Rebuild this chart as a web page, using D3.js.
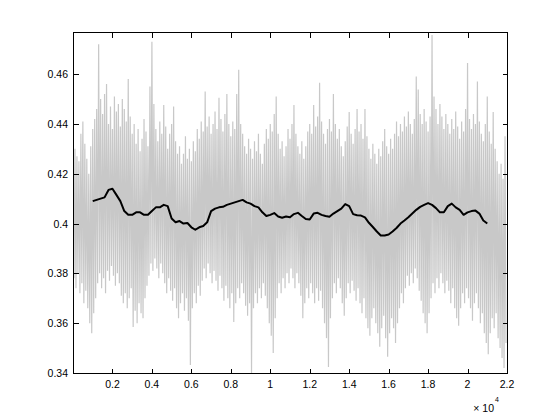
<!DOCTYPE html>
<html><head><meta charset="utf-8">
<script src="https://cdn.jsdelivr.net/npm/d3@7"></script>
<style>html,body{margin:0;padding:0;background:#fff;}svg{display:block;}</style>
</head><body>
<script>
// ---- data ----
const xTickValues = [2000,4000,6000,8000,10000,12000,14000,16000,18000,20000,22000];
const xTickLabels = ["0.2","0.4","0.6","0.8","1","1.2","1.4","1.6","1.8","2","2.2"];
const yTickValues = [0.34,0.36,0.38,0.40,0.42,0.44,0.46];
const yTickLabels = ["0.34","0.36","0.38","0.4","0.42","0.44","0.46"];
const xExponentLabel = "\u00d7 10";
const xExponent = "4";

// raw signal, sampled every 100 samples: local high and local low
const grayStep = 100;
const grayHigh = [
0.428,0.430,0.427,0.425,0.436,0.441,0.432,0.426,0.420,0.431,
0.438,0.442,0.446,0.472,0.450,0.444,0.452,0.456,0.440,0.447,
0.438,0.451,0.445,0.448,0.439,0.450,0.446,0.441,0.458,0.443,
0.436,0.440,0.432,0.438,0.429,0.434,0.442,0.437,0.431,0.455,
0.473,0.448,0.438,0.433,0.441,0.436,0.4476,0.439,0.430,0.436,
0.440,0.447,0.433,0.428,0.431,0.424,0.428,0.435,0.426,0.430,
0.425,0.433,0.429,0.438,0.434,0.441,0.437,0.453,0.439,0.443,
0.436,0.440,0.445,0.438,0.4505,0.442,0.437,0.444,0.452,0.440,
0.435,0.441,0.438,0.452,0.4617,0.440,0.436,0.431,0.428,0.434,
0.430,0.426,0.433,0.429,0.436,0.428,0.424,0.432,0.438,0.434,
0.440,0.437,0.444,0.451,0.436,0.430,0.433,0.427,0.431,0.438,
0.434,0.440,0.4476,0.436,0.431,0.428,0.433,0.426,0.431,0.437,
0.440,0.436,0.4476,0.439,0.443,0.4565,0.441,0.436,0.432,0.438,
0.442,0.437,0.452,0.440,0.434,0.438,0.431,0.427,0.433,0.439,
0.4448,0.436,0.432,0.438,0.446,0.437,0.440,0.434,0.446,0.435,
0.430,0.426,0.432,0.428,0.424,0.430,0.427,0.433,0.438,0.431,
0.428,0.434,0.430,0.436,0.441,0.435,0.440,0.437,0.443,0.439,
0.445,0.440,0.436,0.442,0.459,0.4538,0.444,0.440,0.446,0.441,
0.437,0.443,0.4757,0.451,0.446,0.440,0.448,0.443,0.438,0.444,
0.440,0.436,0.442,0.438,0.445,0.439,0.434,0.441,0.437,0.446,
0.4645,0.442,0.438,0.444,0.440,0.457,0.441,0.436,0.433,0.440,
0.451,0.437,0.432,0.4448,0.430,0.425,0.420,0.424,0.418,0.435];
const grayLow = [
0.378,0.374,0.380,0.372,0.376,0.368,0.373,0.366,0.360,0.356,
0.364,0.370,0.376,0.380,0.374,0.378,0.372,0.381,0.377,0.383,
0.379,0.375,0.380,0.376,0.371,0.368,0.372,0.366,0.370,0.374,
0.3585,0.365,0.360,0.368,0.364,0.362,0.370,0.375,0.379,0.384,
0.381,0.386,0.382,0.378,0.384,0.380,0.376,0.372,0.378,0.373,
0.369,0.374,0.366,0.362,0.368,0.372,0.365,0.370,0.361,0.3432,
0.366,0.372,0.368,0.375,0.371,0.377,0.382,0.378,0.384,0.380,
0.376,0.381,0.377,0.373,0.379,0.374,0.369,0.375,0.370,0.366,
0.372,0.3605,0.368,0.374,0.370,0.376,0.372,0.367,0.363,0.368,
0.340,0.366,0.372,0.368,0.374,0.370,0.376,0.371,0.366,0.360,
0.355,0.348,0.362,0.370,0.376,0.372,0.378,0.374,0.380,0.376,
0.382,0.378,0.374,0.380,0.376,0.371,0.362,0.368,0.374,0.370,
0.376,0.372,0.368,0.374,0.369,0.373,0.366,0.360,0.354,0.3424,
0.362,0.370,0.376,0.372,0.378,0.374,0.368,0.363,0.370,0.376,
0.372,0.377,0.373,0.369,0.374,0.368,0.364,0.370,0.362,0.358,
0.355,0.362,0.366,0.360,0.356,0.3505,0.358,0.363,0.354,0.3465,
0.356,0.362,0.358,0.352,0.360,0.366,0.372,0.368,0.374,0.379,
0.375,0.380,0.376,0.382,0.378,0.373,0.369,0.364,0.360,0.356,
0.364,0.370,0.376,0.372,0.378,0.374,0.380,0.376,0.372,0.377,
0.373,0.368,0.374,0.366,0.362,0.359,0.366,0.372,0.368,0.374,
0.370,0.366,0.361,0.368,0.372,0.366,0.360,0.364,0.356,0.352,
0.3475,0.356,0.362,0.358,0.364,0.354,0.350,0.346,0.342,0.352];

// smoothed (moving average) curve, every 200 samples from 1000 to 21000
const smoothStart = 1000, smoothStep = 200;
const smoothValues = [
0.4090,0.4095,0.4100,0.4105,0.4135,0.4140,0.4115,0.4090,0.4050,0.4035,
0.4035,0.4045,0.4045,0.4035,0.4035,0.4050,0.4065,0.4065,0.4075,0.4070,
0.4020,0.4005,0.4010,0.4000,0.4002,0.3985,0.3975,0.3985,0.3990,0.4005,
0.4050,0.4060,0.4065,0.4067,0.4075,0.4080,0.4085,0.4090,0.4095,0.4085,
0.4080,0.4070,0.4065,0.4045,0.4030,0.4035,0.4042,0.4028,0.4023,0.4028,
0.4025,0.4038,0.4043,0.4030,0.4018,0.4016,0.4040,0.4043,0.4035,0.4030,
0.4027,0.4040,0.4050,0.4060,0.4078,0.4070,0.4038,0.4033,0.4032,0.4025,
0.4003,0.3986,0.3968,0.3952,0.3952,0.3956,0.3968,0.3982,0.4000,0.4012,
0.4025,0.4040,0.4055,0.4067,0.4075,0.4082,0.4075,0.4062,0.4045,0.4045,
0.4070,0.4080,0.4065,0.4055,0.4035,0.4045,0.4050,0.4052,0.4040,0.4012,
0.4000];

// ---- chart ----
const W = 560, H = 420;
const L = 73, R = 507, T = 32, B = 373;
const x = d3.scaleLinear().domain([0, 22000]).range([L, R]);
const y = d3.scaleLinear().domain([0.34, 0.4769]).range([B, T]);

const svg = d3.select("body").append("svg").attr("width", W).attr("height", H)
  .style("font-family", "'Liberation Sans', Arial, Helvetica, sans-serif");
svg.append("rect").attr("width", W).attr("height", H).attr("fill", "#fff");

svg.append("clipPath").attr("id", "clip").append("rect")
  .attr("x", L).attr("y", T).attr("width", R - L).attr("height", B - T);

const grayPts = [];
grayHigh.forEach((h, i) => {
  grayPts.push([i * grayStep, h]);
  grayPts.push([i * grayStep + grayStep / 2, grayLow[i]]);
});
const line = d3.line().x(d => x(d[0])).y(d => y(d[1]));

const g = svg.append("g").attr("clip-path", "url(#clip)");
g.append("path").datum(grayPts).attr("d", line)
  .attr("fill", "none").attr("stroke", "#c8c8c8").attr("stroke-width", 1.2);

const smoothPts = smoothValues.map((v, i) => [smoothStart + i * smoothStep, v]);
g.append("path").datum(smoothPts).attr("d", line)
  .attr("fill", "none").attr("stroke", "#000").attr("stroke-width", 2)
  .attr("stroke-linejoin", "round");

// box
const ax = svg.append("g").attr("stroke", "#000").attr("stroke-width", 1).attr("shape-rendering", "crispEdges");
ax.append("rect").attr("x", L + 0.5).attr("y", T + 0.5).attr("width", R - L).attr("height", B - T)
  .attr("fill", "none");

const tk = 5;
xTickValues.forEach(v => {
  const px = Math.round(x(v)) + 0.5;
  ax.append("line").attr("x1", px).attr("x2", px).attr("y1", B + 0.5).attr("y2", B + 0.5 - tk);
  ax.append("line").attr("x1", px).attr("x2", px).attr("y1", T + 0.5).attr("y2", T + 0.5 + tk);
});
yTickValues.forEach(v => {
  const py = Math.round(y(v)) + 0.5;
  ax.append("line").attr("x1", L + 0.5).attr("x2", L + 0.5 + tk).attr("y1", py).attr("y2", py);
  ax.append("line").attr("x1", R + 0.5).attr("x2", R + 0.5 - tk).attr("y1", py).attr("y2", py);
});

const fs = "10.5px";
xTickValues.forEach((v, i) => {
  svg.append("text").attr("x", x(v)).attr("y", B + 15).attr("text-anchor", "middle")
    .attr("font-size", fs).attr("fill", "#000").text(xTickLabels[i]);
});
yTickValues.forEach((v, i) => {
  svg.append("text").attr("x", L - 5).attr("y", y(v) + 4).attr("text-anchor", "end")
    .attr("font-size", fs).attr("fill", "#000").text(yTickLabels[i]);
});
svg.append("text").attr("x", 494).attr("y", 412).attr("text-anchor", "end")
  .attr("font-size", fs).attr("fill", "#000").text(xExponentLabel);
svg.append("text").attr("x", 495).attr("y", 402).attr("text-anchor", "start")
  .attr("font-size", "7px").attr("fill", "#000").text(xExponent);
</script>
</body></html>
